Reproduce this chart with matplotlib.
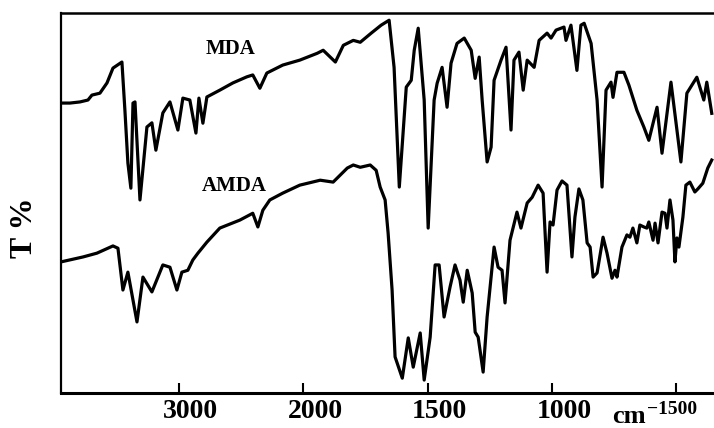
import matplotlib.pyplot as plt
import matplotlib.transforms as mtransforms
import numpy as np

# IR spectra of MDA and AMDA
mda_wn = [3948, 3876, 3795, 3731, 3699, 3635, 3578, 3530, 3458, 3434, 3410, 3386,
          3369, 3353, 3313, 3257, 3217, 3185, 3129, 3072, 3008, 2968, 2912, 2863,
          2839, 2807, 2775, 2671, 2566, 2454, 2406, 2349, 2293, 2165, 2028, 1944,
          1920, 1871, 1839, 1799, 1771, 1727, 1687, 1655, 1635, 1614, 1586, 1566,
          1554, 1538, 1514, 1498, 1474, 1462, 1442, 1422, 1406, 1382, 1353, 1325,
          1309, 1293, 1281, 1261, 1245, 1233, 1205, 1185, 1165, 1153, 1133, 1116,
          1100, 1072, 1052, 1020, 1004, 984, 952, 944, 924, 900, 884, 871, 843,
          819, 799, 783, 763, 755, 739, 711, 691, 659, 631, 611, 578, 558, 522,
          482, 458, 418, 390, 378, 358]
mda_t = [76.3, 76.3, 76.6, 77.1, 78.4, 78.9, 81.6, 85.5, 87.1, 74.4, 60.5, 53.9,
         76.3, 76.6, 50.8, 70.0, 71.1, 63.9, 73.7, 76.6, 69.2, 77.6, 77.1, 68.4,
         77.6, 71.0, 77.9, 79.7, 81.6, 83.2, 83.7, 80.2, 84.2, 86.3, 87.6, 89.4,
         90.2, 87.1, 91.5, 92.8, 92.3, 94.7, 96.8, 98.1, 85.7, 54.2, 80.5, 82.3,
         90.2, 96.0, 77.1, 43.4, 77.1, 81.5, 85.7, 75.2, 86.8, 92.0, 93.4, 90.2,
         82.8, 88.4, 77.1, 60.8, 64.7, 82.3, 87.6, 91.0, 69.2, 87.6, 89.7, 79.7,
         87.6, 85.7, 92.8, 94.7, 93.4, 95.5, 96.3, 92.8, 96.8, 84.9, 96.8, 97.3, 92.0,
         77.1, 54.2, 79.7, 81.8, 77.8, 84.4, 84.4, 81.0, 74.4, 70.0, 66.5, 75.2, 63.1, 81.8,
         60.8, 78.9, 83.1, 77.1, 81.8, 73.6]

amda_wn = [3948, 3771, 3659, 3530, 3490, 3450, 3410, 3337, 3289, 3217, 3129, 3072,
           3016, 2976, 2928, 2888, 2847, 2775, 2671, 2510, 2406, 2365, 2325, 2269,
           2165, 2028, 1932, 1880, 1823, 1799, 1771, 1731, 1707, 1691, 1671, 1659,
           1643, 1631, 1602, 1578, 1558, 1530, 1514, 1490, 1470, 1454, 1434, 1410,
           1390, 1370, 1357, 1341, 1321, 1309, 1297, 1277, 1261, 1233, 1217, 1201,
           1189, 1169, 1141, 1125, 1100, 1080, 1056, 1036, 1020, 1008, 996, 980,
           960, 940, 920, 908, 892, 876, 859, 847, 835, 819, 795, 779, 759, 747,
           739, 719, 699, 687, 675, 659, 647, 631, 619, 611, 594, 586, 574, 558,
           546, 538, 526, 514, 506, 498, 490, 474, 462, 446, 426, 414, 394, 374, 358]
amda_t = [34.5, 35.8, 36.8, 38.7, 38.1, 27.1, 31.8, 18.7, 30.5, 26.6, 33.7, 33.1,
          27.1, 31.8, 32.3, 35.0, 36.8, 39.7, 43.4, 45.5, 47.3, 43.7, 48.1, 50.8,
          52.6, 54.7, 56.0, 55.5, 59.2, 60.0, 59.4, 60.0, 58.6, 54.2, 50.8, 42.1,
          27.1, 9.5, 3.9, 14.5, 6.8, 15.8, 3.4, 14.7, 33.7, 33.7, 20.0, 27.9,
          33.7, 29.7, 23.9, 32.3, 26.3, 16.0, 14.7, 5.5, 20.0, 38.4, 33.1, 32.3,
          23.7, 40.2, 47.6, 43.4, 50.0, 51.5, 54.7, 52.6, 31.8, 45.0, 44.2, 53.4,
          55.8, 54.7, 35.8, 46.3, 53.7, 50.8, 39.5, 38.4, 30.5, 31.6, 41.0, 36.8, 30.2, 32.3,
          30.5, 38.4, 41.6, 41.0, 43.4, 39.5, 44.2, 43.7, 43.4, 45.0, 40.2, 44.7, 39.5, 47.6,
          47.3, 43.4, 50.8, 45.5, 34.5, 40.8, 38.4, 46.3, 54.7, 55.5, 52.9, 53.7, 55.2, 59.2, 61.3]

tick_wn = [3000, 2000, 1500, 1000, 500]
tick_labels = ['3000', '2000', '1500', '1000', '']


# IR charts: scale doubles below 2000 cm-1
def fwd(w):
    w = np.asarray(w, dtype=float)
    return np.where(w >= 2000, w / 1000.0, (w - 1000.0) / 500.0)


def inv(v):
    v = np.asarray(v, dtype=float)
    return np.where(v >= 2, v * 1000.0, 1000.0 + 500.0 * v)


serif = 'Liberation Serif'

fig = plt.figure(figsize=(7.14, 4.28), dpi=100)
ax = fig.add_axes([0.0854, 0.0818, 0.9146, 0.8878])
ax.set_xscale('function', functions=(fwd, inv))

ax.plot(mda_wn, mda_t, color='black', lw=2.3, solid_joinstyle='round')
ax.plot(amda_wn, amda_t, color='black', lw=2.3, solid_joinstyle='round')

ax.set_xlim(3948, 349)
ax.set_ylim(0, 100)

ax.set_xticks(tick_wn)
ax.set_xticklabels(tick_labels)
ax.xaxis.set_minor_locator(plt.NullLocator())
ax.set_yticks([])
ax.tick_params(axis='x', direction='in', length=7, width=1.5, pad=4)
shift = mtransforms.ScaledTranslation(0.12, 0, fig.dpi_scale_trans)
for lab in ax.get_xticklabels():
    lab.set_fontfamily(serif)
    lab.set_fontweight('bold')
    lab.set_fontsize(20)
    lab.set_transform(lab.get_transform() + shift)

ax.spines['right'].set_visible(False)
ax.spines['left'].set_linewidth(1.6)
ax.spines['top'].set_linewidth(1.8)
ax.spines['bottom'].set_linewidth(2.2)

ax.text(0.259, 0.905, 'MDA', transform=ax.transAxes, ha='center', va='center',
        family=serif, fontweight='bold', fontsize=15)
ax.text(0.266, 0.545, 'AMDA', transform=ax.transAxes, ha='center', va='center',
        family=serif, fontweight='bold', fontsize=15)

# axis unit text
fig.text(0.858, 0.012, 'cm', family=serif, fontweight='bold', fontsize=19,
         ha='left', va='baseline')
fig.text(0.906, 0.033, '\u22121500', family=serif, fontweight='bold', fontsize=14,
         ha='left', va='baseline')

fig.text(0.035, 0.467, 'T %', rotation=90, ha='center', va='center',
         family=serif, fontweight='bold', fontsize=23)

fig.savefig('out.png', dpi=100)
